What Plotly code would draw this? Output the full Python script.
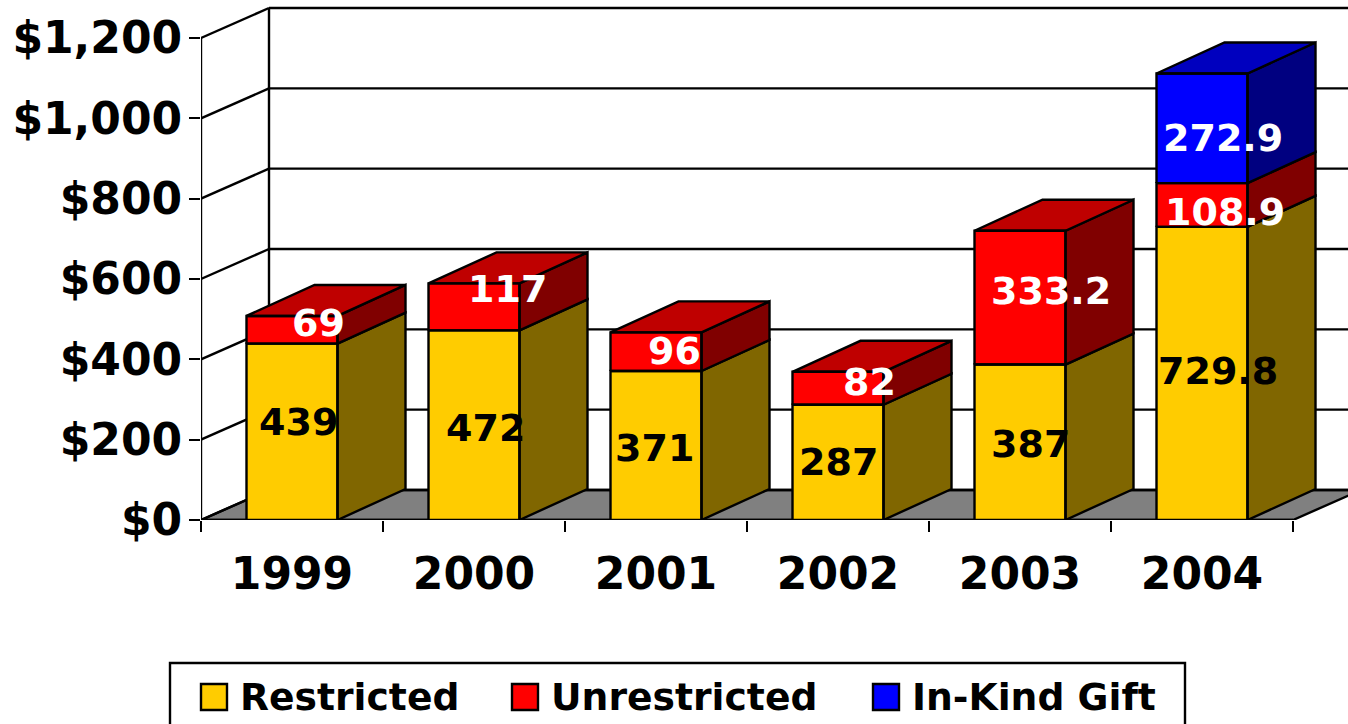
import plotly.graph_objects as go

years = ["1999", "2000", "2001", "2002", "2003", "2004"]
restricted = [439, 472, 371, 287, 387, 729.8]
unrestricted = [69, 117, 96, 82, 333.2, 108.9]
in_kind = [None, None, None, None, None, 272.9]
y_ticks = [0, 200, 400, 600, 800, 1000, 1200]
y_labels = ["$0", "$200", "$400", "$600", "$800", "$1,000", "$1,200"]

# label nudges in pixels from the centre of each front face
shift_r = [(6, 10), (11, -3), (-2, -3), (0, 0), (10, -2), (16, 2)]
shift_u = [(26, 7), (33, 18), (18, 1), (31, 6), (31, 7), (23, -7)]
shift_i = [(0, 0), (0, 0), (0, 0), (0, 0), (0, 0), (21, -10)]

W, H = 1348, 724
L, T, B = 201, 4, 520
UNIT_X = 182.0
UNIT_Y = 482.0 / 1200
PH = B - T
x_max = (W - L) / UNIT_X
y_max = PH / UNIT_Y
DX = 68 / UNIT_X
WALL_DY = 30 / UNIT_Y
BAR_DY = 31 / UNIT_Y
HALF = 0.25
FONT = "DejaVu Sans"
LW = 2.4

C = dict(
    r=("#FFCC00", "#BF9900", "#806600"),
    u=("#FF0000", "#BF0000", "#800000"),
    i=("#0000FF", "#0000BF", "#000080"),
)
centers = [i + 0.5 for i in range(len(years))]
fig = go.Figure()

for name, vals, key in [("Restricted", restricted, "r"),
                        ("Unrestricted", unrestricted, "u"),
                        ("In-Kind Gift", in_kind, "i")]:
    fig.add_bar(x=centers, y=vals, name=name, width=2 * HALF,
                marker=dict(color=C[key][0], line=dict(width=0)),
                legend={"r": "legend", "u": "legend2", "i": "legend3"}[key],
                hoverinfo="skip")

sx, sy = {"r": [], "u": [], "i": []}, {"r": [], "u": [], "i": []}
tx, ty = {"r": [], "u": [], "i": []}, {"r": [], "u": [], "i": []}
ox, oy = [], []
notes = []
for n, c in enumerate(centers):
    base = 0
    stack = [("r", restricted[n], shift_r[n], "black"),
             ("u", unrestricted[n], shift_u[n], "white"),
             ("i", in_kind[n], shift_i[n], "white")]
    stack = [s for s in stack if s[1]]
    for j, (key, v, sh, col) in enumerate(stack):
        top = base + v
        a, b = c - HALF, c + HALF
        sx[key] += [b, b + DX, b + DX, b, b, None]
        sy[key] += [base, base + BAR_DY, top + BAR_DY, top, base, None]
        ox += [a, b, b, a, a, None]
        oy += [base, base, top, top, base, None]
        if j == len(stack) - 1:
            tx[key] += [a, a + DX, b + DX, b, a, None]
            ty[key] += [top, top + BAR_DY, top + BAR_DY, top, top, None]
        notes.append(dict(x=c, y=base + v / 2, text=str(v), showarrow=False,
                          xshift=sh[0], yshift=sh[1],
                          font=dict(family=FONT, size=38, color=col, weight="bold")))
        base = top

for key in "rui":
    if sx[key]:
        fig.add_scatter(x=sx[key], y=sy[key], mode="lines", fill="toself",
                        fillcolor=C[key][2], line=dict(color="black", width=LW),
                        showlegend=False, hoverinfo="skip")
    if tx[key]:
        fig.add_scatter(x=tx[key], y=ty[key], mode="lines", fill="toself",
                        fillcolor=C[key][1], line=dict(color="black", width=LW),
                        showlegend=False, hoverinfo="skip")
fig.add_scatter(x=ox, y=oy, mode="lines", line=dict(color="black", width=LW),
                showlegend=False, hoverinfo="skip")

line = dict(color="black", width=LW)
shapes = []
right = len(years)
# floor
shapes.append(dict(type="path", layer="below", fillcolor="#808080", line=line,
                   path=f"M 0 0 L {DX} {WALL_DY} L {right + DX} {WALL_DY} L {right} 0 Z"))
# walls
for v in y_ticks:
    shapes.append(dict(type="line", layer="below", line=line, x0=0, y0=v, x1=DX, y1=v + WALL_DY))
    shapes.append(dict(type="line", layer="below", line=line, x0=DX, y0=v + WALL_DY, x1=x_max, y1=v + WALL_DY))
shapes.append(dict(type="line", layer="below", line=line, x0=DX, y0=WALL_DY, x1=DX, y1=y_ticks[-1] + WALL_DY))
shapes.append(dict(type="line", layer="below", line=line, x0=0, y0=0, x1=0, y1=y_ticks[-1]))
shapes.append(dict(type="line", layer="below", line=line, x0=0, y0=0, x1=right, y1=0))


def px_x(p):
    return (p - L) / (W - L)


def px_y(p):
    return (B - p) / PH


# legend frame and swatches
shapes.append(dict(type="rect", xref="paper", yref="paper", line=line, fillcolor="white",
                   x0=px_x(170), x1=px_x(1185), y0=px_y(740), y1=px_y(663)))
for key, x0 in [("r", 201), ("u", 512), ("i", 873)]:
    shapes.append(dict(type="rect", xref="paper", yref="paper", fillcolor=C[key][0],
                       line=line, x0=px_x(x0), x1=px_x(x0 + 26), y0=px_y(710), y1=px_y(684)))

lfont = dict(family=FONT, size=37.7, color="black", weight="bold")


def legend_at(px):
    return dict(x=px / W, xref="container", xanchor="left", y=1 - 664 / H, yref="container",
                yanchor="top", orientation="h",
                bgcolor="rgba(0,0,0,0)", borderwidth=0, itemwidth=40, font=lfont)


fig.update_layout(
    width=W, height=H, autosize=False,
    margin=dict(l=L, r=0, t=T, b=H - B, pad=0),
    paper_bgcolor="white", plot_bgcolor="white",
    barmode="stack", bargap=0, showlegend=True,
    shapes=shapes, annotations=notes,
    legend=legend_at(190), legend2=legend_at(501), legend3=legend_at(862),
    xaxis=dict(range=[0, x_max], showgrid=False, zeroline=False, showline=False,
               tickmode="array", tickvals=centers, ticktext=years, ticks="",
               ticklabelstandoff=24,
               tickfont=dict(family=FONT, size=44, color="black", weight="bold"),
               minor=dict(tickmode="array", tickvals=list(range(len(years) + 1)), ticks="outside",
                          ticklen=11, tickwidth=2, tickcolor="black", showgrid=False)),
    yaxis=dict(range=[0, y_max], showgrid=False, zeroline=False, showline=False,
               tickmode="array", tickvals=y_ticks, ticktext=y_labels, ticks="outside",
               ticklen=11, tickwidth=2, tickcolor="black", ticklabelstandoff=-2,
               tickfont=dict(family=FONT, size=44, color="black", weight="bold")),
)

fig.write_html("out.html", config={"displayModeBar": False},
               post_script="document.body.style.margin='0';document.body.style.overflow='hidden';")
